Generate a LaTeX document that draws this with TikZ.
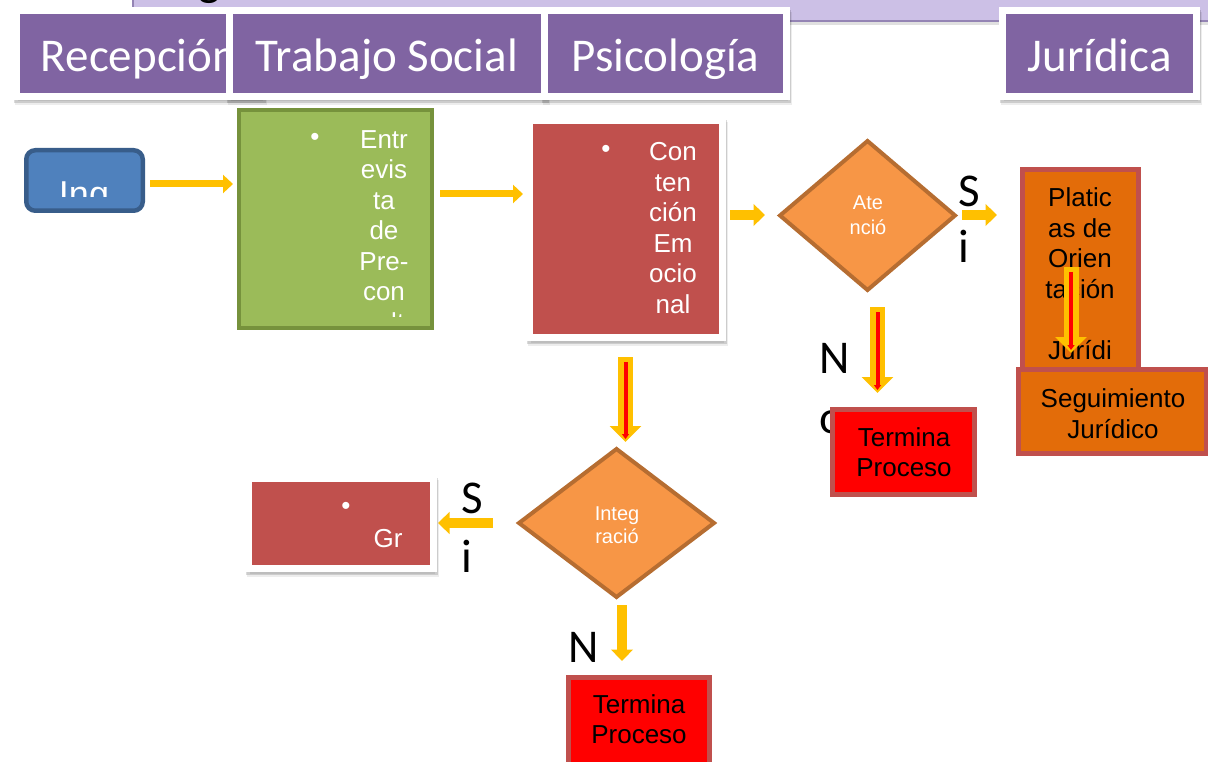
\documentclass[tikz,border=0pt]{standalone}
\usepackage{fontspec}
\setmainfont{Liberation Sans}
\newfontfamily\calfont{Carlito}
\usetikzlibrary{arrows.meta,shapes.geometric,shadows}
\definecolor{banner}{HTML}{CCC0E6}
\definecolor{banedge}{HTML}{9484B4}
\definecolor{purp}{HTML}{8064A2}
\definecolor{bluef}{HTML}{4F81BD}
\definecolor{blued}{HTML}{385D8A}
\definecolor{greenf}{HTML}{9BBB59}
\definecolor{greend}{HTML}{76923C}
\definecolor{redf}{HTML}{C0504D}
\definecolor{orf}{HTML}{F79646}
\definecolor{ord}{HTML}{B66D31}
\definecolor{platf}{HTML}{E36C09}
\definecolor{yel}{HTML}{FFC000}
\begin{document}
\begin{tikzpicture}[x=1pt,y=-1pt,
 shd/.style={general shadow={fill=black, draw=black, line width=7pt, opacity=0.07, shadow xshift=1.5pt, shadow yshift=-5pt},
             general shadow={fill=black, draw=black, line width=7pt, opacity=0.14, shadow xshift=0.8pt, shadow yshift=-3pt}},
 hdr/.style={rectangle, fill=purp, draw=white, line width=7pt, inner sep=0pt, outer sep=0pt, shd},
 hdrtxt/.style={anchor=base, text=white, font=\calfont\fontsize{47}{56}\selectfont, inner sep=0pt},
 wbox/.style={rectangle, fill=redf, draw=white, line width=7pt, inner sep=0pt, outer sep=0pt, shd},
 ingbox/.style={rectangle, rounded corners=9pt, fill=bluef, draw=blued, line width=4.5pt, inner sep=0pt},
 grbox/.style={rectangle, fill=greenf, draw=greend, line width=4pt, inner sep=0pt},
 obox/.style={rectangle, fill=platf, draw=redf, line width=5pt, inner sep=0pt},
 tbox/.style={rectangle, fill=red, draw=redf, line width=5pt, inner sep=0pt},
 dia/.style={diamond, fill=orf, draw=ord, line width=4pt, inner sep=0pt, outer sep=0pt},
 wtxt/.style={anchor=base, text=white, font=\fontsize{26}{30}\selectfont, inner sep=0pt},
 btxt/.style={anchor=base, text=black, font=\fontsize{26}{30}\selectfont, inner sep=0pt},
 dtxt/.style={anchor=base, text=white, font=\fontsize{20}{24}\selectfont, inner sep=0pt},
 bul/.style={text=white, font=\fontsize{26}{30}\selectfont, inner sep=0pt},
 lbl/.style={anchor=base west, text=black, font=\calfont\fontsize{47}{56}\selectfont, inner sep=0pt},
 yarr/.style={draw=yel, line width=7pt, -{Triangle[width=18pt,length=10pt]}},
 yarrb/.style={draw=yel, line width=9.5pt, -{Triangle[width=21.5pt,length=11.5pt]}},
 yro/.style={draw=yel, line width=15pt, -{Triangle[width=31pt,length=16pt]}},
 yri/.style={draw=red, line width=4pt, shorten <=5pt, shorten >=3pt, -{Triangle[width=7pt,length=5pt]}},
]
\useasboundingbox (0,0) rectangle (1208,762);
% banner
\fill[black!12] (135,21) rectangle (1215,25);
\fill[banner] (133,-5) rectangle (1215,21);
\draw[banedge, line width=2pt] (133,-5) -- (133,21) -- (1215,21);
\node[lbl] (gtitle) at (198,-4) {g};
% headers
\node[hdr, minimum width=245pt, minimum height=86pt] (rec) at (139,53.5) {};
\node[hdrtxt] (rect) at (139,72) {Recepción};
\node[hdr, minimum width=315pt, minimum height=86pt] (ts) at (387,53.5) {};
\node[hdrtxt] (tst) at (387,72) {Trabajo Social};
\node[hdr, minimum width=242pt, minimum height=86pt] (ps) at (665.5,53.5) {};
\node[hdrtxt] (pst) at (665.5,72) {Psicología};
\node[hdr, minimum width=194pt, minimum height=86pt] (ju) at (1099.5,53.5) {};
\node[hdrtxt] (jut) at (1099.5,72) {Jurídica};
% labels behind boxes
\node[lbl] (n1) at (819,373) {N};
\node[lbl] (o1) at (819,433) {o};
\node[lbl] (s1) at (958,207) {S};
\node[lbl] (i1) at (958,263) {i};
\node[lbl] (s2) at (461,513) {S};
\node[lbl] (i2) at (461,572) {i};
\node[lbl] (n2) at (568,662) {N};
% Ing
\node[ingbox, minimum width=116.5pt, minimum height=60.5pt] (ing) at (84.5,180.5) {};
\begin{scope}
\clip (29,153) rectangle (140,197);
\node[wtxt, font=\fontsize{36}{40}\selectfont] (ingt) at (84,207) {Ing};
\end{scope}
% green box
\node[grbox, minimum width=193pt, minimum height=218pt] (ent) at (335.5,219) {};
\node[bul] (entb) at (315,139) {•};
\begin{scope}
\clip (242,113) rectangle (429,316);
\foreach \t/\yy [count=\i] in {Entr/148.5, evis/179, ta/209.5, de/240, Pre-/270.5, con/301, sult/331.5}
  \node[wtxt] (entl\i) at (384,\yy) {\t};
\end{scope}
% Psicologia box
\node[wbox, minimum width=193pt, minimum height=217pt] (cont) at (626,229) {};
\node[bul] (contb) at (606,151) {•};
\foreach \t/\yy [count=\i] in {Con/161, ten/191.5, ción/222, Em/252.5, ocio/283, nal/313.5}
  \node[wtxt] (contl\i) at (673,\yy) {\t};
% diamond Atencion
\node[dia, minimum width=175pt, minimum height=149pt] (ate) at (867.5,215.5) {};
\node[dtxt] (atel1) at (868,210) {Ate};
\node[dtxt] (atel2) at (868,235) {nció};
% Platicas
\node[obox, minimum width=116pt, minimum height=200pt] (plat) at (1080.5,270) {};
\foreach \t/\yy [count=\i] in {Platic/207, as de/237.5, Orien/268, tación/298.5, Jurídi/359.5}
  \node[btxt] (platl\i) at (1080,\yy) {\t};
% Seguimiento
\node[obox, minimum width=188pt, minimum height=84pt] (seg) at (1112.5,411.5) {};
\node[btxt] (segl1) at (1113,407) {Seguimiento};
\node[btxt] (segl2) at (1113,438) {Jurídico};
% Termina 1
\node[tbox, minimum width=142pt, minimum height=85pt] (ter1) at (903.5,452) {};
\node[btxt] (ter1a) at (904,446.5) {Termina};
\node[btxt] (ter1b) at (904,476.5) {Proceso};
% diamond Integracion
\node[dia, minimum width=195pt, minimum height=148pt] (integ) at (616.5,523) {};
\node[dtxt] (integl1) at (617,520) {Integ};
\node[dtxt] (integl2) at (617,543) {ració};
% Gr box
\node[wbox, minimum width=185pt, minimum height=90pt] (gr) at (341,523.5) {};
\node[bul] (grb) at (346,508) {•};
\node[wtxt] (grt) at (388,547) {Gr};
% Termina 2
\node[tbox, minimum width=141pt, minimum height=100pt] (ter2) at (639,727.5) {};
\node[btxt] (ter2a) at (639,713) {Termina};
\node[btxt] (ter2b) at (639,743.5) {Proceso};
% arrow coordinates
\coordinate (a1s) at (150,184); \coordinate (a1e) at (233,184);
\coordinate (a2s) at (440,194); \coordinate (a2e) at (523,194);
\coordinate (a3s) at (730,215); \coordinate (a3e) at (765,215);
\coordinate (a4s) at (962,215); \coordinate (a4e) at (997,215);
\coordinate (a7s) at (493,523); \coordinate (a7e) at (438,523);
\coordinate (a8s) at (622,605); \coordinate (a8e) at (622,661);
\coordinate (b1s) at (625.5,357); \coordinate (b1e) at (625.5,442);
\coordinate (b2s) at (877.5,307); \coordinate (b2e) at (877.5,393);
\coordinate (b3s) at (1071,267); \coordinate (b3e) at (1071,353);
\draw[yarr] (a1s) -- (a1e);
\draw[yarr] (a2s) -- (a2e);
\draw[yarrb] (a3s) -- (a3e);
\draw[yarrb] (a4s) -- (a4e);
\draw[yarrb] (a7s) -- (a7e);
\draw[yarrb] (a8s) -- (a8e);
\foreach \b in {b1,b2,b3} {
  \draw[yro] (\b s) -- (\b e);
  \draw[yri] (\b s) -- (\b e);
}
\end{tikzpicture}
\end{document}
